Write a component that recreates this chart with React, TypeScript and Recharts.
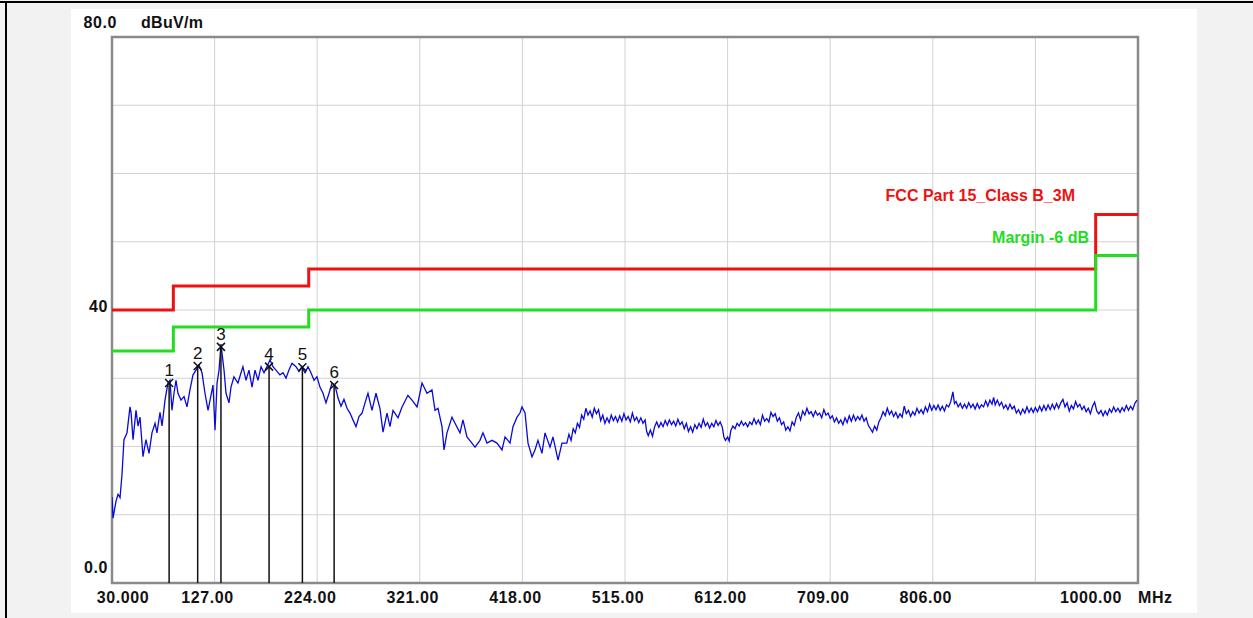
import { ComposedChart, Line, Scatter, XAxis, YAxis, CartesianGrid, ReferenceLine, ReferenceArea } from 'recharts';

// axis ticks
const xTicks = [30, 127, 224, 321, 418, 515, 612, 709, 806, 903, 1000];
const xTickLabels = ['30.000', '127.00', '224.00', '321.00', '418.00', '515.00', '612.00', '709.00', '806.00', '', '1000.00'];
const yTicks = [0, 10, 20, 30, 40, 50, 60, 70, 80];
const yTickLabels = ['0.0', '', '', '', '40', '', '', '', '80.0'];

// FCC Part 15 Class B 3m limit and -6 dB margin
const limitMHz = [30, 88, 216, 960, 1000];
const limitLevel = [40, 43.5, 46, 54, 54];
const marginLevel = [34, 37.5, 40, 48, 48];

// peak markers
const markerNo = [1, 2, 3, 4, 5, 6];
const markerMHz = [84, 111, 133, 178.5, 210, 240];
const markerLevel = [29.3, 31.8, 34.6, 31.7, 31.6, 29.0];

// measured trace [MHz, dBuV/m]
const trace: [number, number][] = [
  [30, 12.6], [31, 9.5], [33.8, 12], [35.7, 13], [37.6, 12.5], [39.5, 16], [41.3, 21], [44.2, 22],
  [47, 25.8], [48, 25], [49.9, 21], [52.7, 25.3], [54.6, 23], [56.5, 24.3], [59.3, 18.5], [62.1, 21],
  [65, 19], [67.8, 22], [70.7, 23.4], [72.5, 22], [75.4, 25], [77.3, 23], [80.1, 26.8], [82.9, 29.3],
  [84.8, 29.7], [86.7, 25.3], [88.6, 27.8], [90.5, 29.7], [92.4, 27.8], [95.2, 26.8], [98.1, 27.3],
  [100.9, 25.8], [103.7, 28.3], [106.6, 30.5], [109.4, 31.2], [112.3, 31.9], [115.1, 30.8], [117.9, 27.8],
  [120.8, 25.3], [122.7, 26.8], [125.5, 29], [127.4, 22.4], [129.3, 29.3], [131.2, 31.2], [133, 35],
  [135.9, 31.2], [137.8, 27.8], [140.6, 26.4], [142.5, 28.7], [145.3, 30.2], [149.1, 29.3], [152, 30.8],
  [153.8, 31.7], [156.7, 29.7], [159.5, 31.2], [162.4, 28.7], [165.2, 31.2], [168, 29.7], [170.9, 31.7],
  [173.7, 30.8], [176.5, 31.7], [179.4, 32.7], [182.2, 31.7], [185, 31.2], [188.8, 30.5], [191.7, 30.8],
  [194.5, 30], [197.3, 31.2], [200.2, 32.2], [204, 31.7], [206.8, 31], [209.6, 31.7], [212.5, 30.8],
  [215.3, 31.7], [218.1, 30.8], [221, 29.7], [223.8, 30.2], [226.6, 28.7], [229.5, 27.8], [232.3, 26.4],
  [235.2, 27.8], [238, 29.3], [240.8, 29], [243.7, 27.1], [246.5, 25.9], [249.3, 26.9], [252.2, 25.6],
  [255, 24.9], [257.8, 23.9], [260.7, 22.9], [263.5, 24.4], [266.4, 24.9], [269.2, 26.4], [272, 27.8],
  [275.8, 25.3], [279.6, 27.8], [283.4, 25.5], [286.2, 22.1], [290, 24.9], [292.8, 22.9], [295.7, 25.3],
  [300.4, 24.2], [304.2, 25.8], [309.8, 27.5], [313.6, 26.8], [318.4, 25.8], [323.1, 29.3], [327.8, 27.8],
  [332.5, 28.3], [335.4, 25.3], [338.2, 25.6], [342, 22.9], [343.9, 19.5], [346.7, 22], [351.4, 24.3],
  [354.3, 23.4], [359, 22], [361.8, 23.9], [365.6, 21.4], [370.3, 20.5], [373.2, 19.9], [377.9, 20.9],
  [380.7, 22], [384.5, 20.5], [389.3, 20.9], [394, 20.5], [398.7, 19.5], [401.6, 21.4], [406.3, 20.5],
  [409.1, 22.9], [412.9, 24.3], [415.7, 24.9], [417.6, 25.8], [420.5, 24.9], [423.3, 20.5], [427.1, 18.5],
  [429.9, 19.5], [432.7, 20.9], [436.5, 19], [439.4, 22], [444.1, 19.9], [446.9, 21.4], [451.7, 18],
  [455.4, 20.5], [460, 20.5], [462, 21.8], [464, 20.9], [466, 22.6], [468, 22], [470, 23.4], [472, 22.8],
  [474, 24.6], [476, 24], [478, 25.6], [480, 24.6], [482, 25.2], [484, 24.3], [486, 25.6], [488, 24.8],
  [490, 25.4], [492, 23.8], [494, 24.6], [496, 23.4], [498, 24.2], [500, 23.5], [502, 24.6], [504, 23.8],
  [506, 24.4], [508, 23.6], [510, 24.5], [512, 23.7], [514, 24.8], [516, 23.9], [518, 24.4], [520, 23.6],
  [522, 24.9], [524, 23.8], [526, 24.3], [528, 23.5], [530, 24.2], [532, 23.4], [534, 23.9], [535.5, 22.2],
  [537, 21.6], [539, 22.4], [541, 21.5], [543, 22.9], [545, 23.6], [547, 22.8], [549, 23.5], [551, 22.9],
  [553, 23.8], [555, 23.1], [557, 23.9], [559, 23.2], [561, 23.7], [563, 23], [565, 24], [567, 23.2],
  [569, 23.6], [571, 22.6], [573, 23.4], [575, 22.2], [577, 22.9], [579, 22.1], [581, 23.2], [583, 22.6],
  [585, 23.4], [587, 22.8], [589, 24], [591, 23], [593, 23.5], [595, 22.7], [597, 23.4], [599, 22.9],
  [601, 23.8], [603, 23.1], [605, 23.6], [607, 22.8], [608.5, 21.4], [610, 20.9], [612, 21.4], [613.5, 20.8],
  [615, 22.3], [617, 23], [619, 22.6], [621, 23.4], [623, 23], [625, 23.7], [627, 23.1], [629, 23.5],
  [631, 22.9], [633, 23.6], [635, 23.2], [637, 24.1], [639, 23.3], [641, 23.9], [643, 23.2], [645, 24.6],
  [647, 23.7], [649, 24.1], [651, 23.6], [653, 25], [655, 24.4], [657, 24.8], [659, 23.7], [661, 24.2],
  [663, 23.2], [665, 23.6], [667, 22.4], [669, 22.9], [671, 22.3], [673, 23.6], [675, 23.1], [677, 24.3],
  [679, 24.9], [681, 23.9], [683, 25.2], [685, 24.6], [687, 25.6], [689, 24.8], [691, 25.1], [693, 24.4],
  [695, 25.2], [697, 24.6], [699, 24.9], [701, 24.2], [703, 25.4], [705, 24.6], [707, 24.9], [709, 24.1],
  [711, 24.5], [713, 23.6], [715, 24.2], [717, 23.4], [719, 23.9], [721, 23.2], [723, 24.2], [725, 23.5],
  [727, 24.5], [729, 23.7], [731, 24.6], [733, 23.8], [735, 24.4], [737, 23.9], [739, 24.6], [741, 23.7],
  [743, 24.2], [745, 23.1], [747, 22.6], [749, 22.1], [751, 23], [753, 22.4], [755, 23.6], [757, 24.2],
  [759, 25.1], [761, 24.5], [763, 25.6], [765, 24.7], [767, 25.2], [769, 24.4], [771, 25], [773, 24.2],
  [775, 24.8], [777, 24.3], [779, 25.9], [781, 24.8], [783, 25.3], [785, 24.4], [787, 25.1], [789, 24.6],
  [791, 25.6], [793, 24.9], [795, 25.4], [797, 24.8], [799, 25.8], [801, 25.1], [803, 26.2], [805, 25.3],
  [807, 26], [809, 25.4], [811, 26.1], [813, 25.3], [815, 25.9], [817, 25.2], [819, 26.1], [821, 25.8],
  [823, 26.6], [825, 28], [826.5, 26.3], [828, 26.6], [830, 25.8], [832, 26.3], [834, 25.6], [836, 26.2],
  [838, 25.6], [840, 26.4], [842, 25.7], [844, 26.2], [846, 25.5], [848, 26.3], [850, 25.6], [852, 26.1],
  [854, 25.8], [856, 26.7], [858, 25.9], [860, 26.8], [862, 26.2], [863.5, 27.2], [865, 26.1], [867, 26.8],
  [869, 26], [871, 26.5], [873, 25.6], [875, 26.1], [877, 25.4], [879, 26.2], [881, 25.5], [883, 25.9],
  [885, 24.9], [887, 25.4], [889, 24.7], [891, 25.5], [893, 24.9], [895, 25.8], [897, 25], [899, 25.6],
  [901, 25], [903, 25.7], [905, 25.1], [907, 25.9], [909, 25.2], [911, 26], [913, 25.3], [915, 26.1],
  [917, 25.4], [919, 26.2], [921, 25.5], [923, 26.3], [925, 25.6], [927, 26.4], [929, 26.9], [931, 25.8],
  [933, 26.4], [935, 25.2], [937, 26], [939, 25.5], [941, 26.6], [943, 25.8], [945, 26.2], [947, 25.4],
  [949, 25.9], [951, 25.1], [953, 25.6], [955, 24.8], [957, 25.9], [959, 26.5], [961, 25.2], [963, 24.8],
  [965, 25.3], [967, 24.5], [969, 25.2], [971, 24.6], [973, 25.5], [975, 25], [977, 25.8], [979, 25.1],
  [981, 25.6], [983, 25], [985, 25.7], [987, 25.2], [989, 26], [991, 25.3], [993, 25.9], [995, 25.4],
  [997, 26.3], [999, 26.8],
];

const traceData = trace.map(([f, v]) => ({ f, v }));
const limitData = limitMHz.map((f, i) => ({ f, v: limitLevel[i] }));
const marginData = limitMHz.map((f, i) => ({ f, v: marginLevel[i] }));
const markerData = markerMHz.map((f, i) => ({ f, v: markerLevel[i], n: markerNo[i] }));

const FONT = '"Liberation Sans", Arial, sans-serif';

const XTick = (props: any) => {
  const { x, y, payload } = props;
  const i = xTicks.indexOf(payload.value);
  const label = xTickLabels[i];
  if (!label) return null;
  let tx = x - 7;
  let anchor: 'middle' | 'end' = 'middle';
  if (i === 0) tx = x + 11;
  if (i === xTicks.length - 1) { tx = x - 16; anchor = 'end'; }
  return (
    <text x={tx} y={y + 20} textAnchor={anchor} fontFamily={FONT} fontWeight="bold" fontSize={16} letterSpacing={0.6} fill="#111">
      {label}
    </text>
  );
};

const YTick = (props: any) => {
  const { x, y, payload } = props;
  const label = yTickLabels[yTicks.indexOf(payload.value)];
  if (!label) return null;
  let tx = x;
  let ty = y + 2;
  if (payload.value === 80) { tx = x + 9; ty = y - 9; }
  if (payload.value === 0) { ty = y - 10; }
  return (
    <text x={tx} y={ty} textAnchor="end" fontFamily={FONT} fontWeight="bold" fontSize={16} letterSpacing={0.6} fill="#111">
      {label}
    </text>
  );
};

const MarkerShape = (props: any) => {
  const { cx, cy, payload } = props;
  return (
    <g>
      <path d={`M${cx - 4},${cy - 4}L${cx + 4},${cy + 4}M${cx - 4},${cy + 4}L${cx + 4},${cy - 4}`} stroke="#111" strokeWidth={1.5} />
      <text x={cx} y={cy - 7} textAnchor="middle" fontFamily={FONT} fontSize={17} fill="#111">{payload.n}</text>
    </g>
  );
};

export default function App() {
  return (
    <div style={{ position: 'absolute', left: 0, top: 0, width: 1253, height: 618, background: '#f2f2f2', overflow: 'hidden' }}>
      <div style={{ position: 'absolute', left: 0, top: 1, width: 1253, height: 2, background: '#000' }} />
      <div style={{ position: 'absolute', left: 5, top: 1, width: 2, height: 617, background: '#000' }} />
      <div style={{ position: 'absolute', left: 71, top: 9, width: 1126, height: 604, background: '#fff' }} />
      <div style={{ position: 'absolute', left: 0, top: 0 }}>
        <ComposedChart width={1253} height={618} margin={{ top: 37, right: 115, bottom: 5, left: 72 }}>
          <CartesianGrid stroke="#d2d2d2" strokeWidth={1} />
          <XAxis type="number" dataKey="f" domain={[30, 1000]} ticks={xTicks} allowDataOverflow height={30}
            tickSize={0} tickMargin={0} axisLine={false} tickLine={false} tick={<XTick />} interval={0} />
          <YAxis type="number" dataKey="v" domain={[0, 80]} ticks={yTicks} width={40} allowDataOverflow
            tickSize={0} tickMargin={4} axisLine={false} tickLine={false} tick={<YTick />} interval={0} />
          <Line data={limitData} dataKey="v" type="stepAfter" stroke="#ee1111" strokeWidth={3} dot={false} isAnimationActive={false} />
          <Line data={marginData} dataKey="v" type="stepAfter" stroke="#22dd22" strokeWidth={3} dot={false} isAnimationActive={false} />
          <Line data={traceData} dataKey="v" type="linear" stroke="#0a0ad8" strokeWidth={1.3} dot={false} isAnimationActive={false} />
          {markerData.map((m) => (
            <ReferenceLine key={m.n} segment={[{ x: m.f, y: 0 }, { x: m.f, y: m.v }]} stroke="#111" strokeWidth={1.5} />
          ))}
          <Scatter data={markerData} dataKey="v" shape={<MarkerShape />} isAnimationActive={false} />
          <ReferenceArea x1={30} x2={1000} y1={0} y2={80} fill="none" fillOpacity={0} stroke="#8a8a8a" strokeWidth={2.5} />
        </ComposedChart>
      </div>
      <svg width={1253} height={618} style={{ position: 'absolute', left: 0, top: 0, pointerEvents: 'none' }}>
        <text x={141} y={28} fontFamily={FONT} fontWeight="bold" fontSize={16} letterSpacing={0.3} fill="#111">dBuV/m</text>
        <text x={1138} y={603} fontFamily={FONT} fontWeight="bold" fontSize={16} letterSpacing={0.6} fill="#111">MHz</text>
        <text x={1075} y={201} textAnchor="end" fontFamily={FONT} fontWeight="bold" fontSize={16} fill="#ee1111">FCC Part 15_Class B_3M</text>
        <text x={1089} y={243} textAnchor="end" fontFamily={FONT} fontWeight="bold" fontSize={16} fill="#22dd22">Margin -6 dB</text>
      </svg>
    </div>
  );
}
